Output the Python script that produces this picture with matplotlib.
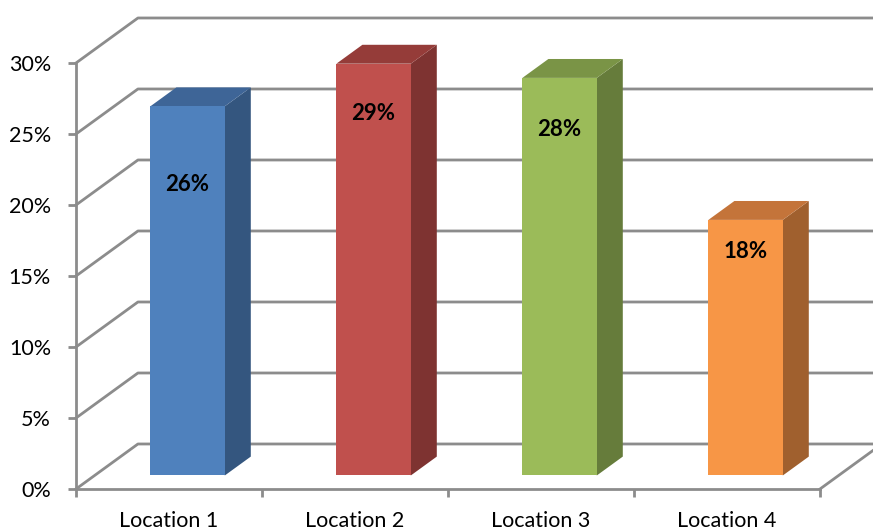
import matplotlib
matplotlib.use("Agg")
import matplotlib.pyplot as plt
from matplotlib.patches import Polygon

# values per location, in percent
locations = ["Location 1", "Location 2", "Location 3", "Location 4"]
shares = [26, 29, 28, 18]
y_ticks = [0, 5, 10, 15, 20, 25, 30]

front_colors = ["#4F81BD", "#C0504D", "#9BBB59", "#F79646"]
top_colors = ["#3E6597", "#953C39", "#7A9446", "#C4743A"]
side_colors = ["#34567F", "#7E3331", "#667C3B", "#A0602E"]

GRID = "#8C8C8C"

# depth of the box, in data units (x in categories, y in percent)
DX = 0.333
DY = 3.17
# bar footprint in the depth direction and across its slot
D0, D1 = 0.30, 0.72
W0, W1 = 0.30, 0.70
# data labels sit a bit below each bar top
label_drop = [5.5, 3.5, 3.6, 2.2]


def proj(x, y, d):
    return (x + d * DX, y + d * DY)


W, H = 873, 530
fig = plt.figure(figsize=(W / 100, H / 100), dpi=100)
plt.rcParams["font.family"] = ["Lato", "DejaVu Sans"]
ax = fig.add_axes([76 / W, 41 / H, 744 / W, 426 / H])
ax.set_xlim(0, 4)
ax.set_ylim(0, 30)
ax.patch.set_visible(False)

for s in ["top", "right"]:
    ax.spines[s].set_visible(False)
for s in ["left", "bottom"]:
    ax.spines[s].set_color(GRID)
    ax.spines[s].set_linewidth(2)

ax.set_yticks(y_ticks)
ax.set_yticklabels([f"{v}%" for v in y_ticks], fontsize=15.5)
ax.set_xticks(range(5))
ax.set_xticklabels([])
ax.set_xticks([i + 0.5 for i in range(4)], minor=True)
ax.set_xticklabels(locations, minor=True, fontsize=15.5)
ax.tick_params(axis="y", length=6, width=2, color=GRID, pad=12)
ax.tick_params(axis="x", which="major", length=6, width=2, color=GRID)
ax.tick_params(axis="x", which="minor", length=0, pad=16)

# side-wall and back-wall gridlines
for v in y_ticks:
    xs, ys = zip(proj(0, v, 0), proj(0, v, 1), proj(4, v, 1))
    ax.plot(xs, ys, color=GRID, lw=2, clip_on=False, zorder=1)
# right edge of the floor
xs, ys = zip(proj(4, 0, 0), proj(4, 0, 1))
ax.plot(xs, ys, color=GRID, lw=2, clip_on=False, zorder=1)

for i, v in enumerate(shares):
    x0, x1 = i + W0, i + W1
    front = [proj(x0, 0, D0), proj(x1, 0, D0), proj(x1, v, D0), proj(x0, v, D0)]
    side = [proj(x1, 0, D0), proj(x1, 0, D1), proj(x1, v, D1), proj(x1, v, D0)]
    top = [proj(x0, v, D0), proj(x1, v, D0), proj(x1, v, D1), proj(x0, v, D1)]
    for pts, c in [(side, side_colors[i]), (top, top_colors[i]), (front, front_colors[i])]:
        ax.add_patch(Polygon(pts, closed=True, facecolor=c, edgecolor="none",
                             clip_on=False, zorder=3))
    lx, ly = proj(i + 0.5, v - label_drop[i], D0)
    ax.text(lx, ly, f"{v}%", ha="center", va="center", fontsize=16,
            fontweight="bold", color="black", zorder=4)

fig.savefig("out.png", dpi=100)
